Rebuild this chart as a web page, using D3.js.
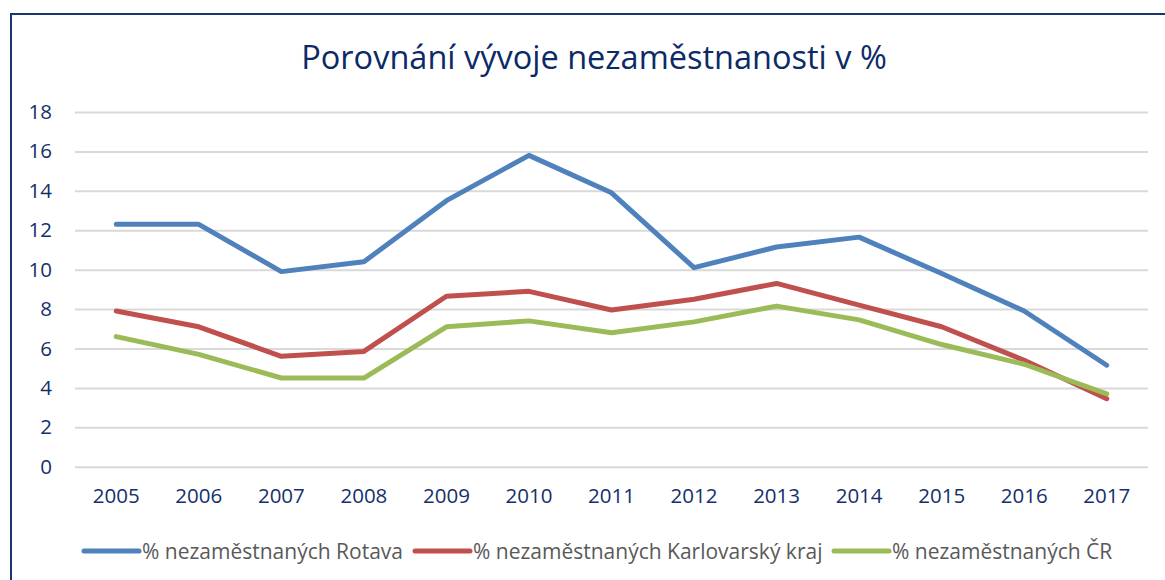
<!DOCTYPE html>
<html>
<head>
<meta charset="utf-8">
<script src="https://cdn.jsdelivr.net/npm/d3@7"></script>
<style>
    html, body { margin: 0; padding: 0; background: #fff; }
    svg { display: block; font-family: "Open Sans", sans-serif; }
</style>
</head>
<body>
<svg id="chart" width="1165" height="580"></svg>
<script>
'use strict';

var years = ["2005", "2006", "2007", "2008", "2009", "2010", "2011", "2012", "2013", "2014", "2015", "2016", "2017"];
var rotava = [12.3, 12.3, 9.9, 10.4, 13.5, 15.8, 13.9, 10.1, 11.15, 11.65, 9.8, 7.9, 5.15];
var karlovarsky = [7.9, 7.1, 5.6, 5.85, 8.65, 8.9, 7.95, 8.5, 9.3, 8.2, 7.1, 5.4, 3.45];
var cr = [6.6, 5.7, 4.5, 4.5, 7.1, 7.4, 6.8, 7.35, 8.15, 7.45, 6.2, 5.2, 3.7];
var yTicks = [0, 2, 4, 6, 8, 10, 12, 14, 16, 18];
var seriesNames = ["% nezaměstnaných Rotava", "% nezaměstnaných Karlovarský kraj", "% nezaměstnaných ČR"];
var seriesColors = ["#4f81bd", "#c0504d", "#9bbb59"];

var navy = "#14306b";
var svg = d3.select("#chart");

// frame of the chart object (runs off the right and bottom of the picture)
svg.append("rect")
    .attr("x", 11).attr("y", 14)
    .attr("width", 1180).attr("height", 600)
    .attr("fill", "#fff")
    .attr("stroke", "#1a356e")
    .attr("stroke-width", 2);

svg.append("text")
    .attr("x", 594).attr("y", 69)
    .attr("text-anchor", "middle")
    .attr("fill", "#0c2a66")
    .attr("font-size", "32.5px")
    .text("Porovnání vývoje nezaměstnanosti v %");

var x = d3.scaleBand().domain(years).range([75, 1148]);
var y = d3.scaleLinear().domain([0, 18]).range([466.7, 112]);

var yAxis = svg.append("g")
    .attr("transform", "translate(75,0)")
    .call(d3.axisLeft(y).tickValues(yTicks).tickSize(-1073).tickPadding(23));
yAxis.select(".domain").remove();
yAxis.selectAll(".tick line").attr("stroke", "#d9d9d9").attr("stroke-width", 2);
yAxis.selectAll(".tick text")
    .attr("fill", navy)
    .attr("font-size", "20.5px")
    .attr("font-family", "Open Sans, sans-serif");

var xAxis = svg.append("g")
    .attr("transform", "translate(0,466.7)")
    .call(d3.axisBottom(x).tickSize(0).tickPadding(22));
xAxis.select(".domain").remove();
xAxis.selectAll(".tick text")
    .attr("fill", navy)
    .attr("font-size", "20.5px")
    .attr("font-family", "Open Sans, sans-serif");

var line = d3.line()
    .x(function (d, i) { return x(years[i]) + x.bandwidth() / 2; })
    .y(function (d) { return y(d); });

[rotava, karlovarsky, cr].forEach(function (values, i) {
    svg.append("path")
        .datum(values)
        .attr("d", line)
        .attr("fill", "none")
        .attr("stroke", seriesColors[i])
        .attr("stroke-width", 5)
        .attr("stroke-linecap", "round")
        .attr("stroke-linejoin", "round");
});

// legend
var legendX = [84, 415, 834];
var legend = svg.append("g").attr("class", "legend");
seriesNames.forEach(function (name, i) {
    var entry = legend.append("g").attr("transform", "translate(" + legendX[i] + ",551)");
    entry.append("line")
        .attr("x1", 0).attr("x2", 55)
        .attr("stroke", seriesColors[i])
        .attr("stroke-width", 5)
        .attr("stroke-linecap", "round");
    entry.append("text")
        .attr("x", 58).attr("y", 7.5)
        .attr("fill", "#595959")
        .attr("font-size", "21px")
        .text(name);
});
</script>
</body>
</html>
